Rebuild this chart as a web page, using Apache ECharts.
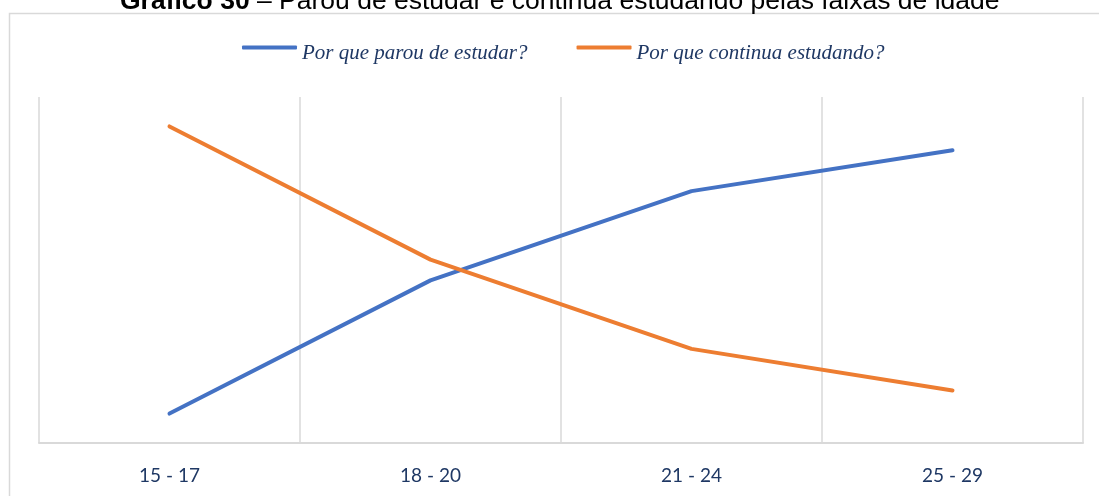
<!DOCTYPE html>
<html>
<head>
<meta charset="utf-8">
<script src="https://cdn.jsdelivr.net/npm/echarts@6/dist/echarts.min.js"></script>
<style>
  html, body { margin: 0; padding: 0; background: #ffffff; }
  #chart { width: 1099px; height: 496px; }
</style>
</head>
<body>
<div id="chart"></div>
<script>
// Age bands on the horizontal axis
const faixas = ['15 - 17', '18 - 20', '21 - 24', '25 - 29'];
// Share (%) of answers per age band
const parouEstudar = [8.5, 47.0, 72.8, 84.6];
const continuaEstudando = [91.5, 53.0, 27.2, 15.2];
const nomeParou = 'Por que parou de estudar?';
const nomeContinua = 'Por que continua estudando?';
const titulo = 'Gráfico 30';
const subtitulo = ' – Parou de estudar e continua estudando pelas faixas de idade';

const chart = echarts.init(document.getElementById('chart'), null, { renderer: 'canvas' });

chart.setOption({
  animation: false,
  backgroundColor: '#ffffff',
  title: {
    text: '{b|' + titulo + '}{n|' + subtitulo + '}',
    left: 115,
    top: -17,
    textStyle: {
      rich: {
        b: { fontFamily: 'Liberation Sans', fontWeight: 'bold', fontSize: 26.5, color: '#000000' },
        n: { fontFamily: 'Liberation Sans', fontWeight: 'normal', fontSize: 26.5, color: '#000000' }
      }
    }
  },
  graphic: [{
    type: 'rect',
    silent: true,
    z: -1,
    shape: { x: 9.5, y: 13.5, width: 1100, height: 500 },
    style: { fill: 'none', stroke: '#d9d9d9', lineWidth: 1.5 }
  }],
  legend: {
    top: 38,
    left: 237,
    itemWidth: 55,
    itemHeight: 4,
    itemGap: 49,
    icon: 'roundRect',
    formatter: '{t|{name}}',
    textStyle: {
      rich: {
        t: {
          fontFamily: 'Liberation Serif',
          fontStyle: 'italic',
          fontSize: 21,
          color: '#1f3864',
          padding: [12, 0, 0, 0]
        }
      }
    },
    data: [nomeParou, nomeContinua]
  },
  grid: { left: 39, right: 16, top: 97, bottom: 53, containLabel: false },
  xAxis: {
    type: 'category',
    data: faixas,
    boundaryGap: true,
    axisLine: { show: true, lineStyle: { color: '#d9d9d9', width: 2 } },
    axisTick: { show: false },
    axisLabel: {
      margin: 23,
      fontFamily: 'Lato',
      fontSize: 19,
      color: '#1f3864'
    },
    splitLine: { show: true, lineStyle: { color: '#d9d9d9', width: 1.5 } }
  },
  yAxis: {
    type: 'value',
    min: 0,
    max: 100,
    show: false,
    splitLine: { show: false }
  },
  series: [
    {
      name: nomeParou,
      type: 'line',
      data: parouEstudar,
      symbol: 'none',
      color: '#4472c4',
      lineStyle: { color: '#4472c4', width: 4, cap: 'round' }
    },
    {
      name: nomeContinua,
      type: 'line',
      data: continuaEstudando,
      symbol: 'none',
      color: '#ed7d31',
      lineStyle: { color: '#ed7d31', width: 4, cap: 'round' }
    }
  ]
});
</script>
</body>
</html>
